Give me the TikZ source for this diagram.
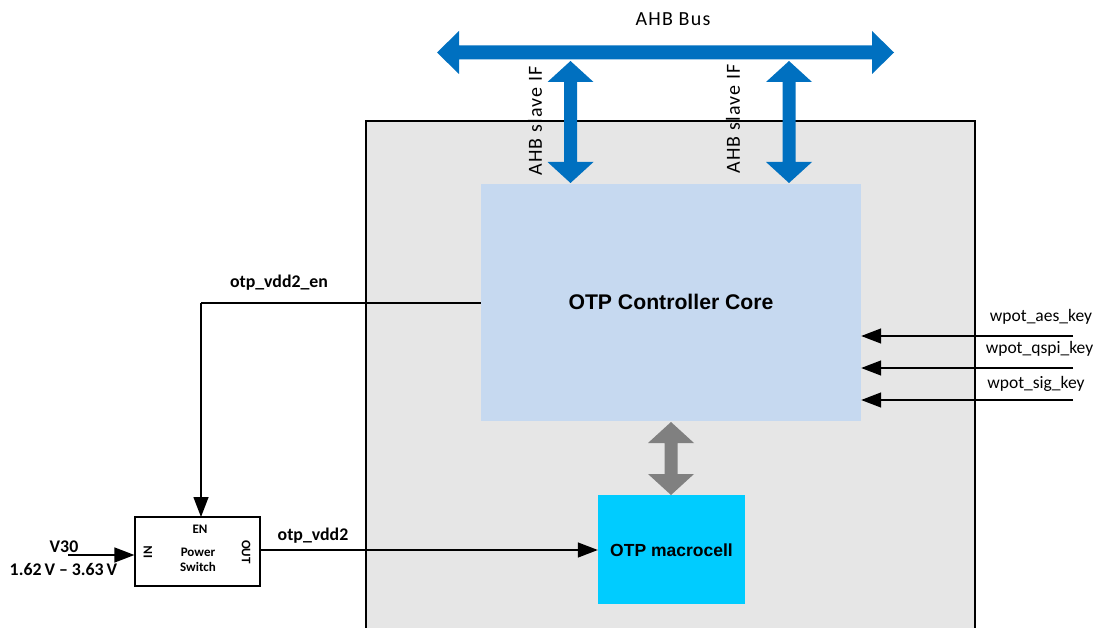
\documentclass[tikz,border=0pt]{standalone}
\usepackage{fontspec}
\setmainfont{Carlito}
\newfontfamily\arialf{Liberation Sans}
\newfontfamily\ahbf[LetterSpace=6]{Carlito}
\usetikzlibrary{arrows.meta}
\definecolor{ahbblue}{HTML}{0070C0}
\definecolor{contgray}{HTML}{E6E6E6}
\definecolor{corefill}{HTML}{C6D9F0}
\definecolor{macrofill}{HTML}{00CCFF}
\definecolor{linkgray}{HTML}{808080}
\tikzset{
  sig/.style={line width=1.4pt, -{Triangle[length=20pt,width=15pt]}},
  lbl/.style={font=\fontsize{17.5}{20}\selectfont, inner sep=0pt},
  blbl/.style={font=\fontsize{17.8}{20}\selectfont\bfseries, inner sep=0pt},
  ahblbl/.style={font=\ahbf\fontsize{20}{22}\selectfont, inner sep=0pt},
  swlbl/.style={font=\fontsize{13}{15}\selectfont\bfseries, inner sep=0pt, align=center},
}
\newcommand{\fatvert}[4]{% x, ytop, ybot, colour
  \fill[#4] (#1,#2) -- ++(23,21) -- ++(-16.5,0) -- (#1+6.5,#3-21) -- ++(16.5,0) -- (#1,#3)
    -- ++(-23,-21) -- ++(16.5,0) -- (#1-6.5,#2+21) -- ++(-16.5,0) -- cycle;}
\begin{document}
\begin{tikzpicture}[x=1pt,y=-1pt]
\useasboundingbox (0,0) rectangle (1097,628);
\fill[white] (0,0) rectangle (1097,628);
\begin{scope}
\clip (0,0) rectangle (1097,628);
\draw[fill=contgray, line width=1.2pt] (366,121) rectangle (975,640);
\end{scope}

% AHB bus
\fill[ahbblue] (437,52.5) -- (459,31) -- (459,45.5) -- (872,45.5) -- (872,31) -- (894,52.5)
  -- (872,74) -- (872,59.5) -- (459,59.5) -- (459,74) -- cycle;
\node[ahblbl] (ahbbus) at (673,19) {AHB Bus};

% controller core
\node[fill=corefill, minimum width=380pt, minimum height=237pt, inner sep=0pt]
  (core) at (671,302.5) {};
\node[font=\arialf\fontsize{21.2}{24}\selectfont\bfseries] (corelbl) at (671,302) {OTP Controller Core};

% macrocell
\node[fill=macrofill, minimum width=147pt, minimum height=109pt, inner sep=0pt]
  (macro) at (671.5,549.5) {};
\node[font=\arialf\fontsize{17.5}{20}\selectfont\bfseries] (macrolbl) at (671.5,550) {OTP macrocell};

% slave interfaces
\fatvert{570.5}{61}{183}{ahbblue}
\fatvert{789}{61}{183}{ahbblue}
\node[ahblbl, rotate=90] (s1) at (535,121) {AHB slave IF};
\node[ahblbl, rotate=90] (s2) at (733,119) {AHB slave IF};

% core <-> macrocell link
\fatvert{671}{422}{495}{linkgray}

% power switch
\node[draw, line width=1.2pt, fill=white, minimum width=125pt, minimum height=69pt, inner sep=0pt]
  (psw) at (197.5,551.5) {};
\node[swlbl] (pswlbl) at (198,560) {Power\\[-0.5pt]Switch};
\node[swlbl] (en) at (200,529) {EN};
\node[swlbl, rotate=90] (in) at (148,552) {IN};
\node[swlbl, rotate=-90] (out) at (246,552) {OUT};

% enable line
\coordinate (enturn) at (201,303);
\draw[line width=1.4pt] (core.west |- 0,303) -- (enturn);
\draw[sig] (enturn) -- (201,517);
\node[blbl] (enlbl) at (279,283) {otp\_vdd2\_en};

% otp_vdd2
\draw[sig] (psw.east |- 0,550) -- (macro.west |- 0,550);
\node[blbl] (vdd2lbl) at (313,536) {otp\_vdd2};

% V30 input
\coordinate (v30) at (68,555);
\draw[sig] (v30) -- (psw.west |- v30);
\node[blbl] (v30lbl) at (64,547) {V30};
\node[blbl] (rangelbl) at (63.5,569) {1.62\,V -- 3.63\,V};

% key inputs
\coordinate (k1) at (1073,336);
\coordinate (k2) at (1073,368);
\coordinate (k3) at (1073,400);
\draw[sig] (k1) -- (core.east |- k1);
\draw[sig] (k2) -- (core.east |- k2);
\draw[sig] (k3) -- (core.east |- k3);
\node[lbl] (k1lbl) at (1041,317) {wpot\_aes\_key};
\node[lbl] (k2lbl) at (1039.5,349) {wpot\_qspi\_key};
\node[lbl] (k3lbl) at (1036,384) {wpot\_sig\_key};
\end{tikzpicture}
\end{document}
